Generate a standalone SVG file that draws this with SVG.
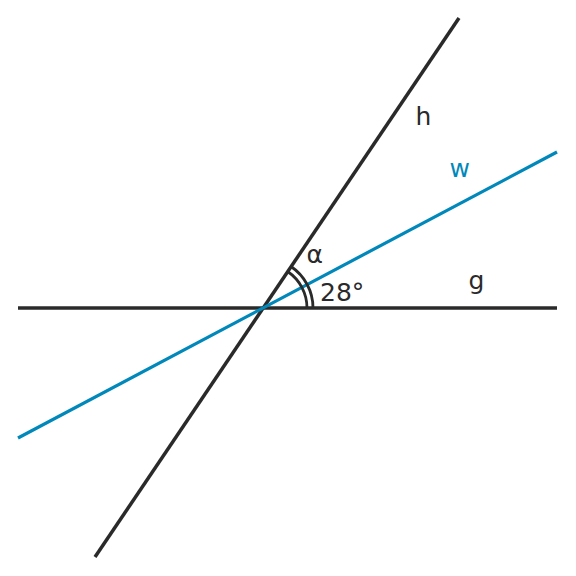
<svg xmlns="http://www.w3.org/2000/svg" width="576" height="576" viewBox="0 0 576 576">
<style>
.ln{stroke:#2a2a2a;stroke-width:3.5;fill:none}
.bl{stroke:#0088bb;stroke-width:3.2;fill:none}
.arc{stroke:#2a2a2a;stroke-width:2.8;fill:none}
text{font-family:"DejaVu Sans",sans-serif;fill:#2a2a2a;font-size:25px}
</style>
<rect width="576" height="576" fill="#fff"/>
<g id="connectors">
<line id="g" class="ln" x1="18" y1="308" x2="557" y2="308"/>
<line id="h" class="ln" x1="95" y1="557" x2="459" y2="18"/>
<line id="w" class="bl" x1="18" y1="438" x2="557" y2="152"/>
</g>
<g id="angle">
<path class="arc" d="M307 308 A44 44 0 0 0 287.6 271.5"/>
<path class="arc" d="M313 308 A50 50 0 0 0 291 266.5"/>
</g>
<g id="labels">
<text x="306.5" y="262.5">α</text>
<text x="320" y="301" font-size="26.5">28°</text>
<text x="415.5" y="125">h</text>
<text x="449.5" y="177" style="fill:#0088bb">w</text>
<text x="468.5" y="289">g</text>
</g>
</svg>
